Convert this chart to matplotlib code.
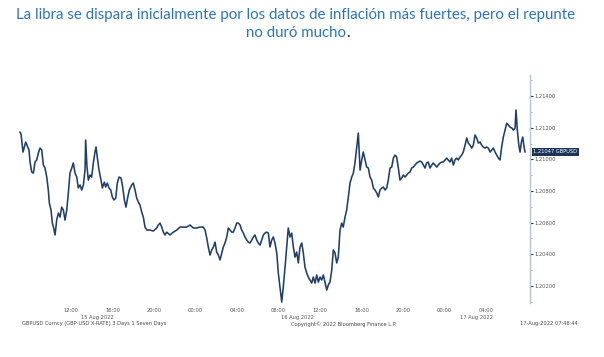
#!usr/bin/env python3

# GBPUSD intraday chart (Bloomberg style), 15-17 Aug 2022

import matplotlib.pyplot as plt
from matplotlib.ticker import MultipleLocator
import matplotlib.transforms as mtransforms

# hours since 15 Aug 2022 00:00
hours = [7.08, 7.18, 7.37, 7.63, 7.83, 7.95, 8.05, 8.21, 8.37, 8.53, 8.69, 8.85, 9.01, 9.18, 9.33,
         9.49, 9.66, 9.81, 9.91, 10.07, 10.20, 10.33, 10.46, 10.62, 10.78, 10.94, 11.10, 11.26, 11.42,
         11.59, 11.74, 11.90, 12.07, 12.22, 12.39, 12.55, 12.70, 12.87, 13.03, 13.19, 13.35, 13.41,
         13.54, 13.67, 13.83, 13.99, 14.15, 14.31, 14.41, 14.53, 14.70, 14.89, 15.02, 15.21, 15.34,
         15.50, 15.66, 15.83, 15.98, 16.14, 16.31, 16.46, 16.63, 16.82, 16.98, 17.14, 17.30, 17.47,
         17.62, 17.85, 18.00, 18.17, 18.33, 18.49, 18.65, 18.81, 18.97, 19.13, 19.30, 19.61, 19.93,
         20.26, 20.41, 20.58, 20.74, 20.90, 21.06, 21.22, 21.54, 21.86, 22.19, 22.51, 22.82, 23.15,
         23.47, 23.79, 24.12, 24.43, 24.75, 24.92, 25.08, 25.23, 25.40, 25.56, 25.72, 25.88, 26.04,
         26.20, 26.36, 26.53, 26.68, 26.84, 27.01, 27.16, 27.33, 27.49, 27.64, 27.81, 27.97, 28.13,
         28.29, 28.45, 28.61, 28.77, 28.94, 29.09, 29.25, 29.42, 29.57, 29.73, 29.90, 30.05, 30.22,
         30.38, 30.54, 30.70, 30.86, 31.02, 31.18, 31.34, 31.50, 31.66, 31.83, 31.98, 32.14, 32.31,
         32.46, 32.63, 32.79, 32.94, 33.11, 33.27, 33.43, 33.59, 33.75, 33.91, 34.07, 34.24, 34.39,
         34.55, 34.72, 34.87, 35.04, 35.20, 35.35, 35.52, 35.68, 35.84, 36.00, 36.16, 36.32, 36.48,
         36.65, 36.80, 36.96, 37.13, 37.28, 37.45, 37.61, 37.76, 37.93, 38.09, 38.24, 38.41, 38.57,
         38.73, 38.89, 39.06, 39.21, 39.37, 39.54, 39.69, 39.86, 40.02, 40.17, 40.34, 40.50, 40.66,
         40.82, 40.98, 41.14, 41.30, 41.47, 41.62, 41.78, 41.95, 42.10, 42.27, 42.43, 42.58, 42.75,
         42.91, 43.07, 43.23, 43.39, 43.55, 43.71, 43.87, 44.03, 44.19, 44.36, 44.51, 44.67, 44.84,
         44.99, 45.16, 45.32, 45.47, 45.64, 45.80, 45.96, 46.12, 46.28, 46.44, 46.60, 46.77, 46.92,
         47.08, 47.25, 47.40, 47.57, 47.73, 47.88, 48.05, 48.21, 48.36, 48.53, 48.69, 48.85, 49.01,
         49.17, 49.33, 49.49, 49.66, 49.81, 49.98, 50.14, 50.29, 50.46, 50.62, 50.78, 50.94, 51.10,
         51.26, 51.42, 51.58, 51.74, 51.90, 52.07, 52.22, 52.39, 52.55, 52.71, 52.87, 53.03, 53.19,
         53.35, 53.51, 53.67, 53.83, 54.00, 54.15, 54.31, 54.48, 54.63, 54.80, 54.89, 55.02, 55.16,
         55.28, 55.41, 55.54, 55.67, 55.76]

gbpusd = [1.21172, 1.21160, 1.21046, 1.21109, 1.21078, 1.21059, 1.20983, 1.20920, 1.20913, 1.20983,
          1.20996, 1.21040, 1.21071, 1.21059, 1.20964, 1.20945, 1.20888, 1.20806, 1.20724, 1.20680,
          1.20597, 1.20566, 1.20522, 1.20616, 1.20661, 1.20635, 1.20698, 1.20680, 1.20616, 1.20680,
          1.20787, 1.20913, 1.20945, 1.20977, 1.20913, 1.20888, 1.20819, 1.20838, 1.20806, 1.20838,
          1.20932, 1.21122, 1.20951, 1.20869, 1.20901, 1.20888, 1.20977, 1.21046, 1.21078, 1.21014,
          1.20932, 1.20869, 1.20819, 1.20856, 1.20825, 1.20850, 1.20819, 1.20806, 1.20762, 1.20743,
          1.20755, 1.20850, 1.20888, 1.20882, 1.20825, 1.20743, 1.20698, 1.20762, 1.20806, 1.20838,
          1.20850, 1.20806, 1.20755, 1.20730, 1.20711, 1.20667, 1.20635, 1.20572, 1.20553, 1.20553,
          1.20547, 1.20566, 1.20585, 1.20597, 1.20572, 1.20540, 1.20522, 1.20540, 1.20522, 1.20540,
          1.20553, 1.20572, 1.20572, 1.20572, 1.20585, 1.20566, 1.20566, 1.20572, 1.20572, 1.20553,
          1.20503, 1.20446, 1.20395, 1.20427, 1.20446, 1.20477, 1.20414, 1.20395, 1.20364, 1.20408,
          1.20446, 1.20471, 1.20509, 1.20566, 1.20553, 1.20540, 1.20540, 1.20566, 1.20597, 1.20597,
          1.20585, 1.20553, 1.20534, 1.20509, 1.20490, 1.20477, 1.20471, 1.20490, 1.20509, 1.20522,
          1.20490, 1.20471, 1.20458, 1.20490, 1.20522, 1.20534, 1.20540, 1.20534, 1.20446, 1.20490,
          1.20509, 1.20471, 1.20408, 1.20281, 1.20193, 1.20098, 1.20193, 1.20319, 1.20446, 1.20566,
          1.20509, 1.20534, 1.20446, 1.20382, 1.20414, 1.20345, 1.20446, 1.20471, 1.20408, 1.20319,
          1.20281, 1.20256, 1.20237, 1.20218, 1.20256, 1.20218, 1.20269, 1.20224, 1.20256, 1.20237,
          1.20269, 1.20224, 1.20174, 1.20206, 1.20224, 1.20300, 1.20427, 1.20408, 1.20345, 1.20382,
          1.20553, 1.20597, 1.20572, 1.20635, 1.20680, 1.20762, 1.20850, 1.20888, 1.20913, 1.20977,
          1.21078, 1.21166, 1.20932, 1.20996, 1.21046, 1.20996, 1.20951, 1.20945, 1.20888, 1.20869,
          1.20819, 1.20806, 1.20787, 1.20762, 1.20806, 1.20819, 1.20825, 1.20806, 1.20819, 1.20869,
          1.20945, 1.20951, 1.21008, 1.21027, 1.21014, 1.20945, 1.20869, 1.20882, 1.20901, 1.20888,
          1.20901, 1.20913, 1.20920, 1.20945, 1.20951, 1.20964, 1.20977, 1.20983, 1.20989, 1.20983,
          1.20964, 1.20945, 1.20977, 1.20983, 1.20945, 1.20964, 1.20977, 1.20964, 1.20951, 1.20964,
          1.20977, 1.20983, 1.20983, 1.20996, 1.21008, 1.20996, 1.20983, 1.21008, 1.20964, 1.20996,
          1.21008, 1.20996, 1.21014, 1.21027, 1.21046, 1.21090, 1.21135, 1.21103, 1.21090, 1.21071,
          1.21090, 1.21154, 1.21135, 1.21103, 1.21109, 1.21090, 1.21078, 1.21071, 1.21078, 1.21071,
          1.21046, 1.21059, 1.21071, 1.21046, 1.21027, 1.21008, 1.20996, 1.21078, 1.21141, 1.21185,
          1.21229, 1.21217, 1.21204, 1.21198, 1.21185, 1.21198, 1.21312, 1.21185, 1.21090, 1.21046,
          1.21109, 1.21141, 1.21078, 1.21047]

tick_hours = [12, 16, 20, 24, 28, 32, 36, 40, 44, 48, 52]
tick_labels = ['12:00', '16:00', '20:00', '00:00', '04:00', '08:00',
               '12:00', '16:00', '20:00', '00:00', '04:00']
date_hours = [14.5, 33.8, 51.1]
date_labels = ['15 Aug 2022', '16 Aug 2022', '17 Aug 2022']
y_ticks = [1.202, 1.204, 1.206, 1.208, 1.210, 1.212, 1.214]
last_price = 1.21047

title_1 = 'La libra se dispara inicialmente por los datos de inflación más fuertes, pero el repunte'
title_2 = 'no duró mucho'


def main():
    line_color = '#1f3f66'
    gray = '#555555'
    small = 3.7

    fig = plt.figure(figsize=(6.04, 3.57), dpi=100)
    ax = fig.add_axes([15 / 604, 1 - 303 / 357, 515 / 604, 228 / 357])

    ax.plot(hours, gbpusd, color=line_color, linewidth=1.15, solid_joinstyle='round')
    ax.set_xlim(6.6, 56.24)
    ax.set_ylim(1.20092, 1.21533)

    for side in ['left', 'top', 'bottom']:
        ax.spines[side].set_visible(False)
    ax.spines['right'].set_color('#b7c3d0')
    ax.spines['right'].set_linewidth(1.0)

    ax.yaxis.tick_right()
    ax.set_yticks(y_ticks)
    ax.set_yticklabels([f'{v:.5f}' for v in y_ticks])
    ax.yaxis.set_minor_locator(MultipleLocator(0.001))
    ax.tick_params(axis='y', which='major', direction='out', length=2.2, width=0.8,
                   color='#333333', labelsize=small, labelcolor=gray, pad=1.2)
    ax.tick_params(axis='y', which='minor', direction='out', length=1.5, width=0.5,
                   color='#8899aa')

    ax.set_xticks(tick_hours)
    ax.set_xticklabels(tick_labels)
    ax.tick_params(axis='x', length=0, labelsize=small, labelcolor=gray, pad=3.6)

    # date labels under time ticks
    trans = mtransforms.blended_transform_factory(ax.transData, fig.transFigure)
    for h, lab in zip(date_hours, date_labels):
        ax.text(h, 1 - 317 / 357, lab, transform=trans, ha='center', va='center',
                fontsize=small, color=gray)

    # last price tag on the axis
    ax.annotate(f'{last_price:.5f} GBPUSD', xy=(1.0, last_price),
                xycoords=('axes fraction', 'data'), xytext=(2.5, 0),
                textcoords='offset points', ha='left', va='center',
                fontsize=small, color='white',
                bbox=dict(boxstyle='square,pad=0.35', fc='#1c3557', ec='none'))

    # footer
    fig.text(22 / 604, 1 - 324 / 357, 'GBPUSD Curncy (GBP-USD X-RATE) 3 Days 1 Seven Days',
             ha='left', va='center', fontsize=small, color='#444444')
    fig.text(291 / 604, 1 - 324 / 357, 'Copyright© 2022 Bloomberg Finance L.P.',
             ha='left', va='center', fontsize=small, color='#444444')
    fig.text(578 / 604, 1 - 324 / 357, '17-Aug-2022 07:48:44',
             ha='right', va='center', fontsize=small, color='#444444')

    # title, fitted to the width it takes in the original
    title_color = '#2e74b5'
    cx = 296 / 604
    t1 = fig.text(cx, 1 - 15 / 357, title_1, ha='center', va='center',
                  fontsize=11, color=title_color, family='Lato')
    renderer = fig.canvas.get_renderer()
    width = t1.get_window_extent(renderer).width
    size = 11 * 556 / width
    t1.set_fontsize(size)
    t2 = fig.text(cx, 1 - 33 / 357, title_2, ha='center', va='center',
                  fontsize=size, color=title_color, family='Lato')
    ax.annotate('.', xy=(1, 0), xycoords=t2, xytext=(0, 0), textcoords='offset points',
                ha='left', va='bottom', fontsize=size, color='black', family='Lato',
                annotation_clip=False)

    fig.savefig('out.png', dpi=100)


if __name__ == "__main__":
    main()
